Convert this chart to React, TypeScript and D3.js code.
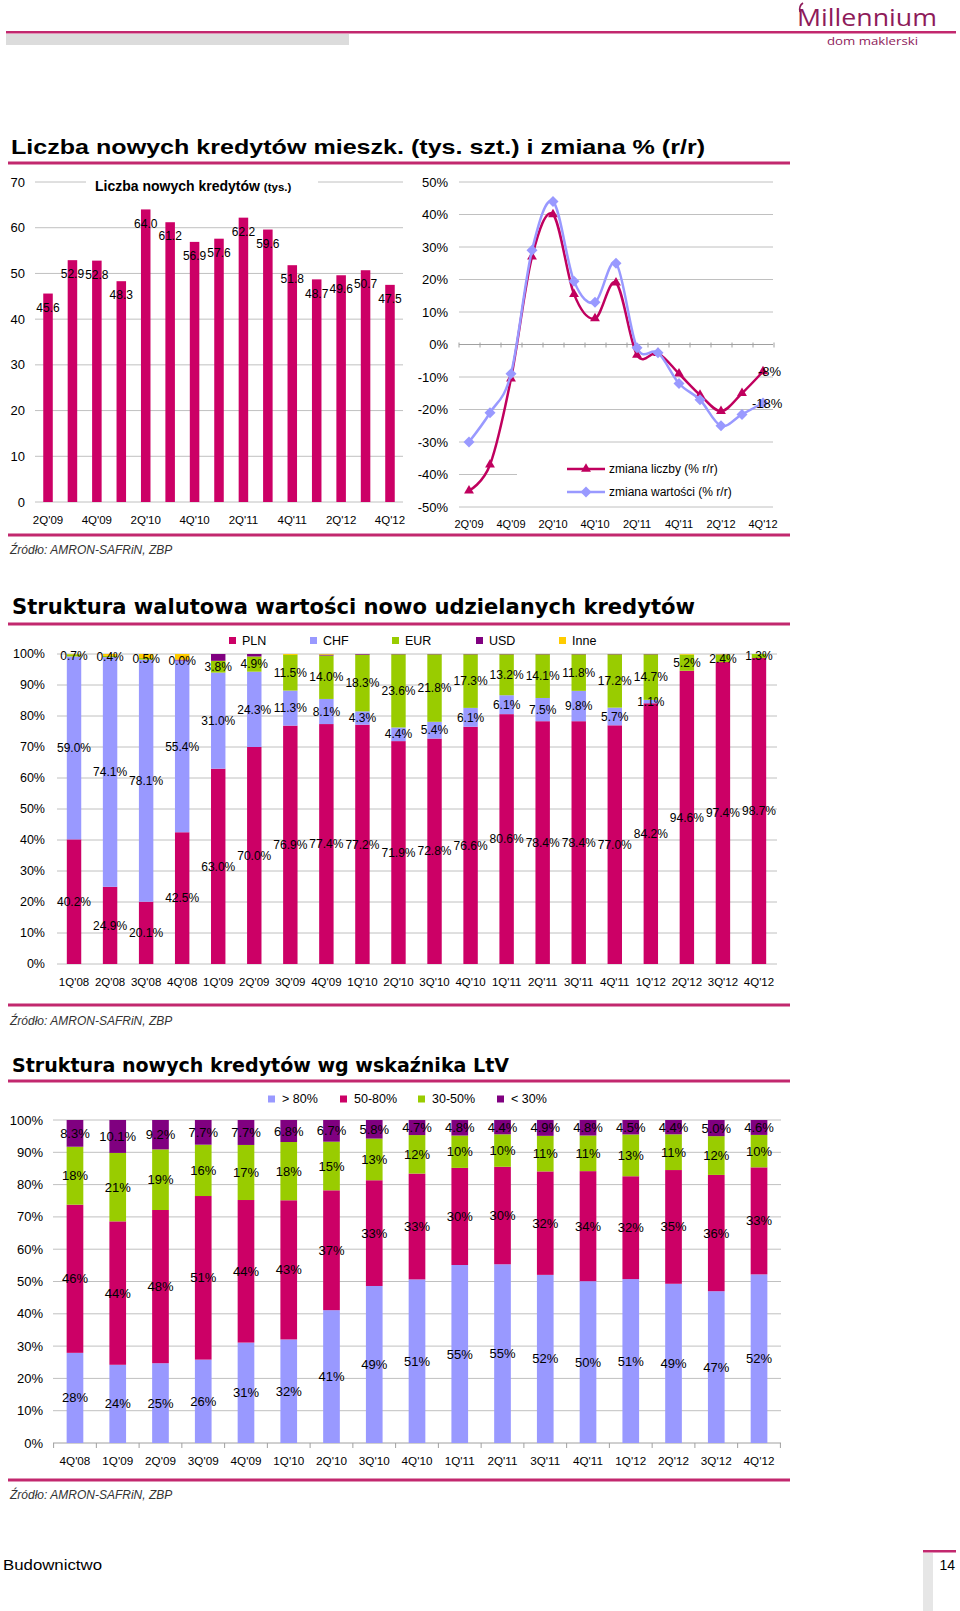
import React from "react";
import * as d3 from "d3";

const FONT = "'Liberation Sans', Arial, Helvetica, sans-serif";
const CRIMSON = "#CC0066";
const LINE_CRIMSON = "#C0005E";
const LAVENDER = "#9999FF";
const GREEN = "#99CC00";
const PURPLE = "#800080";
const GOLD = "#FFCC00";
const GRID = "#C0C0C0";
const RULE = "#C2286E";
const LOGO = "#8E1B5A";

// ---------- Chart 1: number of new loans + y/y change ----------
const QUARTERS_1 = ["2Q'09", "3Q'09", "4Q'09", "1Q'10", "2Q'10", "3Q'10", "4Q'10", "1Q'11", "2Q'11", "3Q'11", "4Q'11", "1Q'12", "2Q'12", "3Q'12", "4Q'12"];
const NEW_LOANS = [45.6, 52.9, 52.8, 48.3, 64.0, 61.2, 56.9, 57.6, 62.2, 59.6, 51.8, 48.7, 49.6, 50.7, 47.5];
const LOANS_TICKS = [0, 10, 20, 30, 40, 50, 60, 70];
const XLABELS_1 = ["2Q'09", "4Q'09", "2Q'10", "4Q'10", "2Q'11", "4Q'11", "2Q'12", "4Q'12"];
const PCT_TICKS = [-50, -40, -30, -20, -10, 0, 10, 20, 30, 40, 50];
const CHANGE_COUNT = [-45, -37, -10.5, 27, 40, 15.5, 8, 19, -3.2, -2.7, -9, -15.5, -20.5, -15, -8.3];
const CHANGE_VALUE = [-30, -21, -9, 29, 44, 19.5, 13, 25, -1, -2.5, -12, -17, -25, -21.5, -18];

// ---------- Chart 2: currency structure ----------
const QUARTERS_2 = ["1Q'08", "2Q'08", "3Q'08", "4Q'08", "1Q'09", "2Q'09", "3Q'09", "4Q'09", "1Q'10", "2Q'10", "3Q'10", "4Q'10", "1Q'11", "2Q'11", "3Q'11", "4Q'11", "1Q'12", "2Q'12", "3Q'12", "4Q'12"];
const CUR_PLN = [40.2, 24.9, 20.1, 42.5, 63.0, 70.0, 76.9, 77.4, 77.2, 71.9, 72.8, 76.6, 80.6, 78.4, 78.4, 77.0, 84.2, 94.6, 97.4, 98.7];
const CUR_CHF: (number | null)[] = [59.0, 74.1, 78.1, 55.4, 31.0, 24.3, 11.3, 8.1, 4.3, 4.4, 5.4, 6.1, 6.1, 7.5, 9.8, 5.7, 1.1, null, null, null];
const CUR_EUR = [0.7, 0.4, 0.5, 0.0, 3.8, 4.9, 11.5, 14.0, 18.3, 23.6, 21.8, 17.3, 13.2, 14.1, 11.8, 17.2, 14.7, 5.2, 2.4, 1.3];
const CUR_USD = [0, 0, 0, 0.3, 2.2, 0.8, 0, 0.3, 0.2, 0.1, 0.1, 0.1, 0.1, 0.1, 0.1, 0.1, 0.1, 0, 0.1, 0];
const CUR_INNE = [0.1, 0.6, 1.3, 1.8, 0, 0, 0.3, 0.2, 0, 0, 0, 0, 0, 0, 0, 0, 0, 0.2, 0.1, 0];
const CUR_NAMES = ["PLN", "CHF", "EUR", "USD", "Inne"];
const SHARE_TICKS = [0, 0.1, 0.2, 0.3, 0.4, 0.5, 0.6, 0.7, 0.8, 0.9, 1];

// ---------- Chart 3: LtV structure ----------
const QUARTERS_3 = ["4Q'08", "1Q'09", "2Q'09", "3Q'09", "4Q'09", "1Q'10", "2Q'10", "3Q'10", "4Q'10", "1Q'11", "2Q'11", "3Q'11", "4Q'11", "1Q'12", "2Q'12", "3Q'12", "4Q'12"];
const LTV_ABOVE80 = [28, 24, 25, 26, 31, 32, 41, 49, 51, 55, 55, 52, 50, 51, 49, 47, 52];
const LTV_50_80 = [46, 44, 48, 51, 44, 43, 37, 33, 33, 30, 30, 32, 34, 32, 35, 36, 33];
const LTV_30_50 = [18, 21, 19, 16, 17, 18, 15, 13, 12, 10, 10, 11, 11, 13, 11, 12, 10];
const LTV_BELOW30 = [8.3, 10.1, 9.2, 7.7, 7.7, 6.8, 6.7, 5.8, 4.7, 4.8, 4.4, 4.9, 4.8, 4.5, 4.4, 5.0, 4.6];
const LTV_NAMES = ["> 80%", "50-80%", "30-50%", "< 30%"];

const pctFmt = (v: number) => `${Math.round(v * 100)}%`;

export default function App() {
  // ----- chart 1 scales -----
  const y1 = d3.scaleLinear().domain([0, 70]).range([502, 182]);
  const x1 = d3.scaleBand<string>().domain(QUARTERS_1).range([35.8, 402.2]).paddingInner(0.61).paddingOuter(0.305);

  const y2 = d3.scaleLinear().domain([-50, 50]).range([507, 182]);
  const x2 = d3.scalePoint<string>().domain(QUARTERS_1).range([458.5, 773.5]).padding(0.5);
  const step2 = x2.step();
  const lineGen = d3
    .line<number>()
    .x((_, i) => x2(QUARTERS_1[i]) as number)
    .y((d) => y2(d))
    .curve(d3.curveCatmullRom.alpha(0));
  const tri = d3.symbol().type(d3.symbolTriangle).size(42);
  const diamond = (cx: number, cy: number, r: number) => `M${cx},${cy - r}L${cx + r},${cy}L${cx},${cy + r}L${cx - r},${cy}Z`;

  // ----- chart 2 -----
  const y3 = d3.scaleLinear().domain([0, 1]).range([964, 654]);
  const x3 = d3.scaleBand<string>().domain(QUARTERS_2).range([56, 777]).paddingInner(0.6).paddingOuter(0.3);
  const curRaw = [CUR_PLN, CUR_CHF, CUR_EUR, CUR_USD, CUR_INNE];
  const curColors = [CRIMSON, LAVENDER, GREEN, PURPLE, GOLD];
  const curRows = QUARTERS_2.map((q, i) => {
    const r: any = { q };
    CUR_NAMES.forEach((k, s) => (r[k] = curRaw[s][i] ?? 0));
    return r;
  });
  const curStack = d3.stack<any>().keys(CUR_NAMES).offset(d3.stackOffsetExpand)(curRows);
  const curLegendX = [229, 310, 392, 476, 559];

  // ----- chart 3 -----
  const y4 = d3.scaleLinear().domain([0, 1]).range([1443, 1120]);
  const x4 = d3.scaleBand<string>().domain(QUARTERS_3).range([53.6, 780.4]).paddingInner(0.61).paddingOuter(0.305);
  const ltvRaw = [LTV_ABOVE80, LTV_50_80, LTV_30_50, LTV_BELOW30];
  const ltvColors = [LAVENDER, CRIMSON, GREEN, PURPLE];
  const ltvRows = QUARTERS_3.map((q, i) => {
    const r: any = { q };
    LTV_NAMES.forEach((k, s) => (r[k] = ltvRaw[s][i]));
    return r;
  });
  const ltvStack = d3.stack<any>().keys(LTV_NAMES).offset(d3.stackOffsetExpand)(ltvRows);
  const ltvLegendX = [268, 340, 418, 497];

  const src = (y: number) => (
    <text x={10} y={y} fontFamily={FONT} fontSize={12} fontStyle="italic" fill="#333">
      Źródło: AMRON-SAFRiN, ZBP
    </text>
  );

  return (
    <svg width={960} height={1611} viewBox="0 0 960 1611" style={{ position: "absolute", left: 0, top: 0, background: "#fff" }}>
      <rect x={0} y={0} width={960} height={1611} fill="#fff" />
      {/* header */}
      <rect x={6} y={34} width={343} height={11} fill="#DCDCDC" />
      <rect x={6} y={31} width={950} height={2.5} fill={RULE} />
      <path d="M800,12 C799,8 800,5 803,3" stroke={LOGO} strokeWidth={1.6} fill="none" />
      <text x={797} y={26} fontFamily="'Open Sans', 'DejaVu Sans', sans-serif" fontSize={23} fill={LOGO} textLength={140} lengthAdjust="spacingAndGlyphs">
        Millennium
      </text>
      <text x={827} y={45} fontFamily="'Open Sans', 'DejaVu Sans', sans-serif" fontSize={11} fill={LOGO} textLength={91} lengthAdjust="spacingAndGlyphs">
        dom maklerski
      </text>

      {/* ===== Title 1 ===== */}
      <text x={11} y={154} fontFamily={FONT} fontSize={21} fontWeight="bold" fill="#000" textLength={694} lengthAdjust="spacingAndGlyphs">
        Liczba nowych kredytów mieszk. (tys. szt.) i zmiana % (r/r)
      </text>
      <rect x={8} y={161.5} width={782} height={3} fill={RULE} />

      {/* chart 1 left: bars */}
      <g fontFamily={FONT}>
        {LOANS_TICKS.map((t) => (
          <g key={t}>
            <line x1={35} x2={403} y1={y1(t)} y2={y1(t)} stroke={GRID} strokeWidth={1} />
            <text x={25} y={y1(t)} dy="0.35em" textAnchor="end" fontSize={13} fill="#000">
              {t}
            </text>
          </g>
        ))}
        <rect x={86} y={174} width={232} height={22} fill="#fff" />
        <text x={95} y={191} fontSize={14} fontWeight="bold" fill="#000">
          Liczba nowych kredytów <tspan fontSize={11.5}>(tys.)</tspan>
        </text>
        {NEW_LOANS.map((v, i) => (
          <rect key={i} x={x1(QUARTERS_1[i])} y={y1(v)} width={x1.bandwidth()} height={y1(0) - y1(v)} fill={CRIMSON} />
        ))}
        {NEW_LOANS.map((v, i) => (
          <text key={i} x={(x1(QUARTERS_1[i]) as number) + x1.bandwidth() / 2} y={y1(v) + 14} dy="0.35em" textAnchor="middle" fontSize={12} fill="#000">
            {v.toFixed(1)}
          </text>
        ))}
        {XLABELS_1.map((q) => (
          <text key={q} x={(x1(q) as number) + x1.bandwidth() / 2} y={524} textAnchor="middle" fontSize={11.5} fill="#000">
            {q}
          </text>
        ))}
      </g>

      {/* chart 1 right: lines */}
      <g fontFamily={FONT}>
        {PCT_TICKS.map((t) => (
          <g key={t}>
            {t !== 0 && <line x1={459} x2={773} y1={y2(t)} y2={y2(t)} stroke={GRID} strokeWidth={1} />}
            <text x={448} y={y2(t)} dy="0.35em" textAnchor="end" fontSize={13} fill="#000">
              {t}%
            </text>
          </g>
        ))}
        <line x1={459} x2={773} y1={y2(0)} y2={y2(0)} stroke="#A0A0A0" strokeWidth={1} />
        {QUARTERS_1.concat(["end"]).map((q, i) => {
          const x = 459 + i * step2;
          return <line key={i} x1={x} x2={x} y1={y2(0) - 2} y2={y2(0) + 3} stroke="#A0A0A0" strokeWidth={1} />;
        })}
        <rect x={517} y={452} width={256} height={48} fill="#fff" />
        <path d={lineGen(CHANGE_COUNT) as string} fill="none" stroke={LINE_CRIMSON} strokeWidth={2.5} />
        {CHANGE_COUNT.map((v, i) => (
          <path key={i} d={tri() as string} transform={`translate(${x2(QUARTERS_1[i])},${y2(v)})`} fill={LINE_CRIMSON} />
        ))}
        <path d={lineGen(CHANGE_VALUE) as string} fill="none" stroke={LAVENDER} strokeWidth={2.5} />
        {CHANGE_VALUE.map((v, i) => (
          <path key={i} d={diamond(x2(QUARTERS_1[i]) as number, y2(v), 5.5)} fill={LAVENDER} />
        ))}
        <text x={758} y={y2(CHANGE_COUNT[14])} dy="0.35em" fontSize={13} fill="#000">
          {Math.round(CHANGE_COUNT[14])}%
        </text>
        <text x={752} y={y2(CHANGE_VALUE[14])} dy="0.35em" fontSize={13} fill="#000">
          {Math.round(CHANGE_VALUE[14])}%
        </text>
        {/* legend */}
        <line x1={567} x2={605} y1={469} y2={469} stroke={LINE_CRIMSON} strokeWidth={2.5} />
        <path d={tri() as string} transform="translate(586,469)" fill={LINE_CRIMSON} />
        <text x={609} y={469} dy="0.35em" fontSize={12} fill="#000">
          zmiana liczby (% r/r)
        </text>
        <line x1={567} x2={605} y1={492} y2={492} stroke={LAVENDER} strokeWidth={2.5} />
        <path d={diamond(586, 492, 5.5)} fill={LAVENDER} />
        <text x={609} y={492} dy="0.35em" fontSize={12} fill="#000">
          zmiana wartości (% r/r)
        </text>
        {XLABELS_1.map((q) => (
          <text key={q} x={x2(q)} y={528} textAnchor="middle" fontSize={11} fill="#000">
            {q}
          </text>
        ))}
      </g>
      <rect x={8} y={533.5} width={782} height={3} fill={RULE} />
      {src(554)}

      {/* ===== Title 2 ===== */}
      <text x={12} y={614} fontFamily="'DejaVu Sans', Verdana, sans-serif" fontSize={21} fontWeight="bold" fill="#000" textLength={683} lengthAdjust="spacingAndGlyphs">
        Struktura walutowa wartości nowo udzielanych kredytów
      </text>
      <rect x={8} y={622.5} width={782} height={3} fill={RULE} />
      <g fontFamily={FONT}>
        {CUR_NAMES.map((n, s) => (
          <g key={n}>
            <rect x={curLegendX[s]} y={637} width={7} height={7} fill={curColors[s]} />
            <text x={curLegendX[s] + 13} y={640.5} dy="0.35em" fontSize={12.5} fill="#000">
              {n}
            </text>
          </g>
        ))}
        {SHARE_TICKS.map((t) => (
          <g key={t}>
            <line x1={57} x2={777} y1={y3(t)} y2={y3(t)} stroke={GRID} strokeWidth={1} />
            <text x={45} y={y3(t)} dy="0.35em" textAnchor="end" fontSize={12.5} fill="#000">
              {pctFmt(t)}
            </text>
          </g>
        ))}
        {curStack.map((ser, s) => (
          <g key={s} fill={curColors[s]}>
            {ser.map((d, i) => (
              <rect key={i} x={x3(QUARTERS_2[i])} y={y3(d[1])} width={x3.bandwidth()} height={Math.max(0, y3(d[0]) - y3(d[1]))} />
            ))}
          </g>
        ))}
        {curStack.slice(0, 3).map((ser, s) =>
          ser.map((d, i) => {
            const v = curRaw[s][i];
            if (v === null || v === undefined) return null;
            return (
              <text key={`${s}-${i}`} x={(x3(QUARTERS_2[i]) as number) + x3.bandwidth() / 2} y={(y3(d[0]) + y3(d[1])) / 2} dy="0.35em" textAnchor="middle" fontSize={12} fill="#000">
                {v.toFixed(1)}%
              </text>
            );
          })
        )}
        {QUARTERS_2.map((q) => (
          <text key={q} x={(x3(q) as number) + x3.bandwidth() / 2} y={986} textAnchor="middle" fontSize={11.5} fill="#000">
            {q}
          </text>
        ))}
      </g>
      <rect x={8} y={1003.5} width={782} height={3} fill={RULE} />
      {src(1025)}

      {/* ===== Title 3 ===== */}
      <text x={12} y={1072} fontFamily="'DejaVu Sans', Verdana, sans-serif" fontSize={20} fontWeight="bold" fill="#000" textLength={497} lengthAdjust="spacingAndGlyphs">
        Struktura nowych kredytów wg wskaźnika LtV
      </text>
      <rect x={8} y={1079.5} width={782} height={3} fill={RULE} />
      <g fontFamily={FONT}>
        {LTV_NAMES.map((n, s) => (
          <g key={n}>
            <rect x={ltvLegendX[s]} y={1095.5} width={7} height={7} fill={ltvColors[s]} />
            <text x={ltvLegendX[s] + 14} y={1099} dy="0.35em" fontSize={12.5} fill="#000">
              {n}
            </text>
          </g>
        ))}
        {SHARE_TICKS.map((t) => (
          <g key={t}>
            <line x1={53} x2={781} y1={y4(t)} y2={y4(t)} stroke={t === 0 ? "#A0A0A0" : GRID} strokeWidth={1} />
            <text x={43} y={y4(t)} dy="0.35em" textAnchor="end" fontSize={13} fill="#000">
              {pctFmt(t)}
            </text>
          </g>
        ))}
        {QUARTERS_3.concat(["end"]).map((q, i) => {
          const x = 53.6 + i * x4.step();
          return <line key={i} x1={x} x2={x} y1={y4(0)} y2={y4(0) + 5} stroke="#A0A0A0" strokeWidth={1} />;
        })}
        {ltvStack.map((ser, s) => (
          <g key={s} fill={ltvColors[s]}>
            {ser.map((d, i) => (
              <rect key={i} x={x4(QUARTERS_3[i])} y={y4(d[1])} width={x4.bandwidth()} height={Math.max(0, y4(d[0]) - y4(d[1]))} />
            ))}
          </g>
        ))}
        {ltvStack.map((ser, s) =>
          ser.map((d, i) => {
            const v = ltvRaw[s][i];
            return (
              <text key={`${s}-${i}`} x={(x4(QUARTERS_3[i]) as number) + x4.bandwidth() / 2} y={(y4(d[0]) + y4(d[1])) / 2} dy="0.35em" textAnchor="middle" fontSize={13} fill="#000">
                {s === 3 ? v.toFixed(1) : v}%
              </text>
            );
          })
        )}
        {QUARTERS_3.map((q) => (
          <text key={q} x={(x4(q) as number) + x4.bandwidth() / 2} y={1465} textAnchor="middle" fontSize={11.7} fill="#000">
            {q}
          </text>
        ))}
      </g>
      <rect x={8} y={1478.5} width={782} height={3} fill={RULE} />
      {src(1499)}

      {/* footer */}
      <text x={3} y={1570} fontFamily={FONT} fontSize={15} fill="#000" textLength={99} lengthAdjust="spacingAndGlyphs">
        Budownictwo
      </text>
      <rect x={923} y={1553} width={10} height={58} fill="#E6E6E6" />
      <rect x={923} y={1550} width={33} height={2.5} fill={RULE} />
      <text x={955} y={1570} textAnchor="end" fontFamily={FONT} fontSize={14} fill="#000">
        14
      </text>
    </svg>
  );
}
